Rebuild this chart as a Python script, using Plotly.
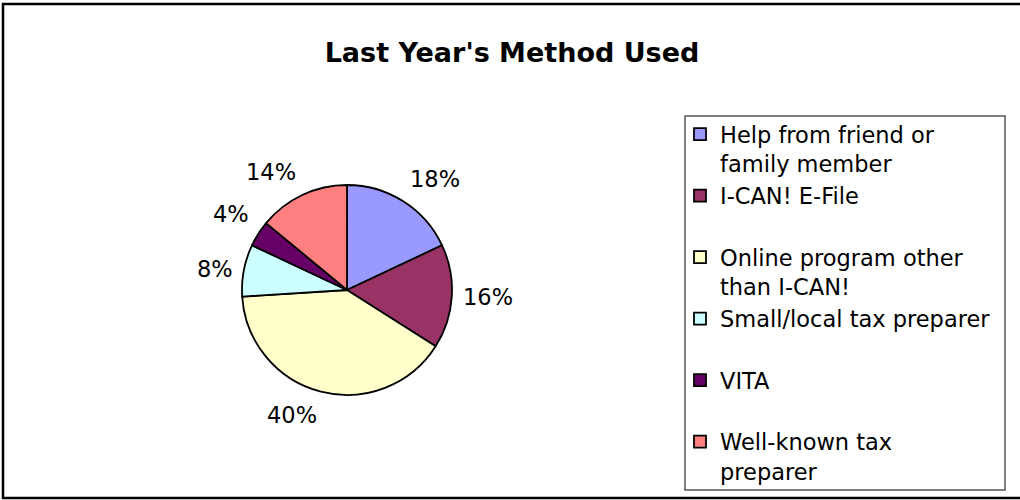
import math
import plotly.graph_objects as go

methods = [
    "Help from friend or<br>family member",
    "I-CAN! E-File<br>\u00a0",
    "Online program other<br>than I-CAN!",
    "Small/local tax preparer<br>\u00a0",
    "VITA<br>\u00a0",
    "Well-known tax<br>preparer",
]
shares = [18, 16, 40, 8, 4, 14]
colors = ["#9999FF", "#993366", "#FFFFCC", "#CCFFFF", "#660066", "#FF8080"]

W, H = 1020, 500
cx, cy, r = 347, 290, 105
FONT = "DejaVu Sans, Arial, Liberation Sans"
LABEL_GAP = 9

fig = go.Figure(
    go.Pie(
        labels=methods,
        values=shares,
        sort=False,
        direction="clockwise",
        rotation=0,
        marker=dict(colors=colors, line=dict(color="black", width=1.8)),
        textinfo="none",
        domain=dict(x=[(cx - r) / W, (cx + r) / W], y=[(H - cy - r) / H, (H - cy + r) / H]),
        hoverinfo="label+percent",
    )
)

# Percentage labels placed just outside each slice (Excel-style anchoring)
total = sum(shares)
annotations = []
cum = 0
for v in shares:
    mid = (cum + v / 2) / total * 2 * math.pi
    cum += v
    ux, uy = math.sin(mid), -math.cos(mid)  # screen direction (y down)
    px = cx + (r + LABEL_GAP) * ux
    py = cy + (r + LABEL_GAP) * uy
    xa = "left" if ux > 0.1 else ("right" if ux < -0.1 else "center")
    ya = "bottom" if uy < -0.3 else ("top" if uy > 0.3 else "middle")
    annotations.append(dict(
        x=px / W, y=1 - py / H, xref="paper", yref="paper",
        text=f"{round(v / total * 100)}%", showarrow=False,
        xanchor=xa, yanchor=ya,
        font=dict(family=FONT, size=22.5, color="black"),
    ))

fig.update_layout(
    width=W,
    height=H,
    margin=dict(l=0, r=0, t=0, b=0),
    paper_bgcolor="white",
    plot_bgcolor="white",
    font=dict(family=FONT, color="black"),
    title=dict(
        text="<b>Last Year's Method Used</b>",
        font=dict(family=FONT, size=27, color="black"),
        x=512 / W,
        xanchor="center",
        y=1 - 53 / H,
        yanchor="middle",
        xref="paper",
        yref="paper",
    ),
    showlegend=True,
    legend=dict(
        x=680 / W,
        xanchor="left",
        y=1 - 113 / H,
        yanchor="top",
        bgcolor="rgba(0,0,0,0)",
        borderwidth=0,
        font=dict(family=FONT, size=22.5, color="black"),
        valign="top",
        traceorder="normal",
    ),
    annotations=annotations,
    shapes=[
        dict(type="rect", xref="paper", yref="paper",
             x0=685 / W, x1=1005 / W, y0=1 - 490 / H, y1=1 - 116 / H,
             line=dict(color="#555555", width=1.5), fillcolor="rgba(0,0,0,0)"),
        dict(type="rect", xref="paper", yref="paper",
             x0=3 / W, x1=1.02, y0=1 - 498 / H, y1=1 - 4 / H,
             line=dict(color="black", width=2.5), fillcolor="rgba(0,0,0,0)"),
    ],
)

fig.write_html("out.html", config={"displayModeBar": False},
               post_script="document.body.style.margin='0';")
